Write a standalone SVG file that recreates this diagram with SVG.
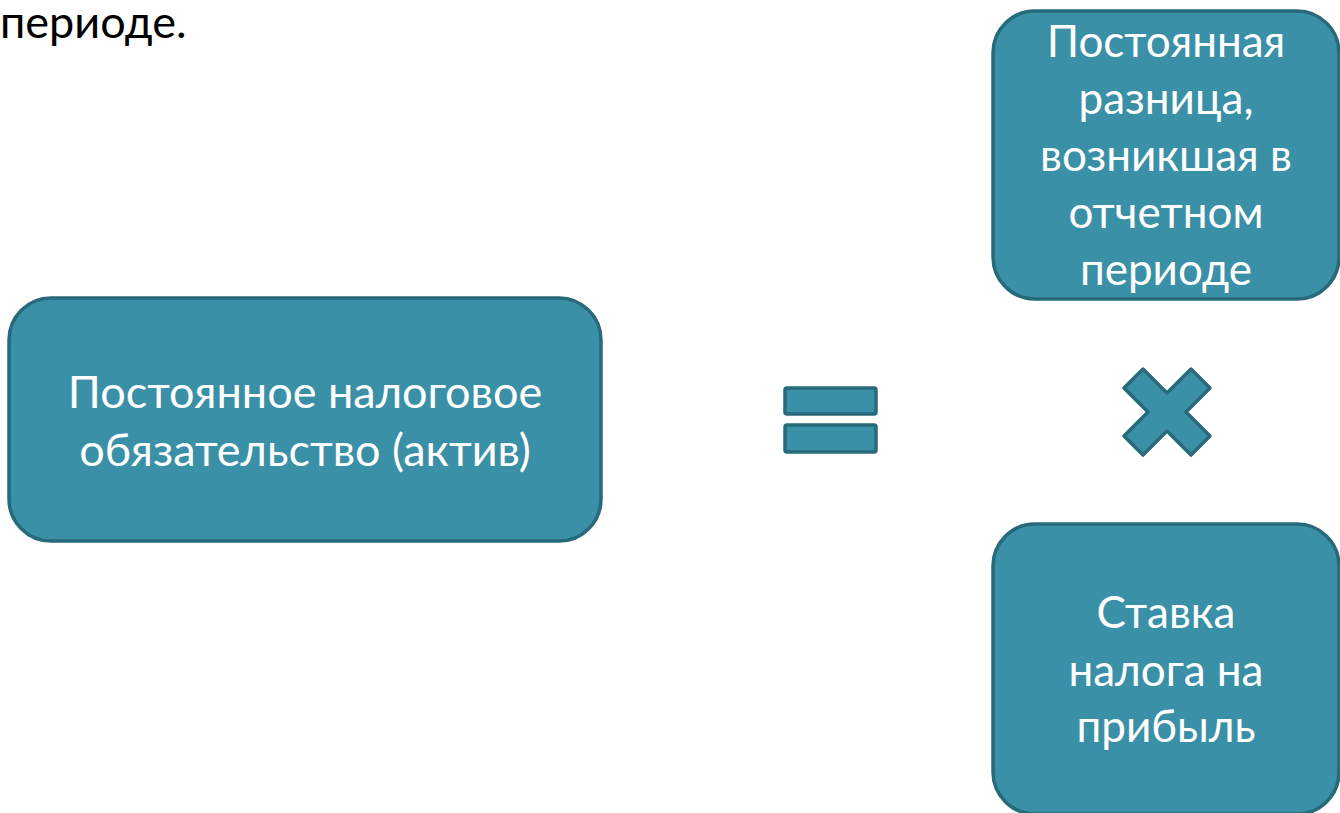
<svg xmlns="http://www.w3.org/2000/svg" width="1340" height="813" viewBox="0 0 1340 813">
<style>
.box{fill:#3A90A6;stroke:#276A7A;stroke-width:3.5}
.sym{fill:#3A90A6;stroke:#276A7A;stroke-width:3.5;stroke-linejoin:round}
.t{font-family:Lato,"Noto Sans",sans-serif;font-size:44px;fill:#FFFFFF;text-anchor:middle}
.tl{font-size:45px}
.h{font-family:Lato,"Noto Sans",sans-serif;font-size:45px;fill:#000000}
</style>
<rect width="1340" height="813" fill="#FFFFFF"/>
<text class="h" x="0" y="38">периоде.</text>
<g id="node-left">
<rect class="box" x="9" y="298" width="592" height="243" rx="42"/>
<text class="t tl" x="305" y="408">Постоянное налоговое</text>
<text class="t tl" x="305" y="466">обязательство (актив)</text>
</g>
<g id="node-top-right">
<rect class="box" x="993" y="11" width="346" height="288" rx="42"/>
<text class="t" x="1166" y="57">Постоянная</text>
<text class="t" x="1166" y="114">разница,</text>
<text class="t" x="1166" y="171">возникшая в</text>
<text class="t" x="1166" y="228">отчетном</text>
<text class="t" x="1166" y="285">периоде</text>
</g>
<g id="node-bottom-right">
<rect class="box" x="993" y="524" width="346" height="290" rx="42"/>
<text class="t" x="1166" y="628">Ставка</text>
<text class="t" x="1166" y="686">налога на</text>
<text class="t" x="1166" y="742">прибыль</text>
</g>
<g id="connectors">
<g id="equals">
<rect class="sym" x="785" y="388" width="91" height="26" rx="2"/>
<rect class="sym" x="785" y="425" width="91" height="27" rx="2"/>
</g>
<polygon id="times" class="sym" points="1167,393 1191,369 1210,388 1186,412 1210,436 1191,455 1167,431 1143,455 1124,436 1148,412 1124,388 1143,369"/>
</g>
</svg>
